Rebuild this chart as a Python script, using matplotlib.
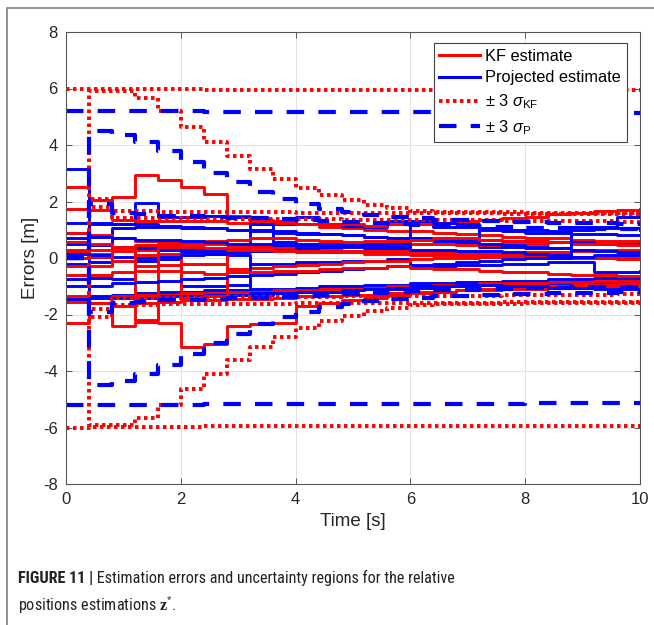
import numpy as np
import matplotlib
matplotlib.use('Agg')
import matplotlib.pyplot as plt
from matplotlib.lines import Line2D
from matplotlib.patches import Rectangle

plt.rcParams['font.family'] = ['Liberation Sans', 'DejaVu Sans']
plt.rcParams['axes.unicode_minus'] = False
plt.rcParams['mathtext.fontset'] = 'custom'
plt.rcParams['mathtext.rm'] = 'Liberation Sans'
plt.rcParams['mathtext.it'] = 'Liberation Sans:italic'
plt.rcParams['mathtext.bf'] = 'Liberation Serif:bold'

# time grid of the estimator updates (s)
t = np.arange(0, 10.01, 0.4)

# KF estimate errors (m), one per relative position component
kf_errors = [
    [2.5, 2.05, 2.15, 2.95, 2.75, 2.5, 2.25, 1.5, 1.35, 1.3, 1.2, 1.1, 1.05, 1.0, 0.95, 0.95, 0.9, 0.85, 0.8, 0.75, 0.7, 0.7, 0.65, 0.6, 0.6, 0.6],
    [-2.3, -1.6, -2.4, -2.25, -2.3, -3.15, -3.05, -2.4, -2.35, -2.3, -1.7, -1.6, -1.5, -1.4, -1.3, -1.25, -1.2, -1.15, -1.1, -1.05, -1.0, -1.0, -0.95, -0.95, -0.9, -0.9],
    [1.75, 1.7, 1.35, 1.3, 1.3, 1.3, 1.3, 1.25, 1.25, 1.25, 1.2, 1.2, 1.2, 1.15, 1.2, 1.2, 1.25, 1.3, 1.35, 1.4, 1.45, 1.55, 1.6, 1.65, 1.7, 1.72],
    [0.9, 0.8, 0.7, 0.6, 0.55, 0.5, 0.5, 0.45, 0.45, 0.4, 0.45, 0.45, 0.5, 0.5, 0.55, 0.5, 0.5, 0.45, 0.45, 0.5, 0.5, 0.55, 0.55, 0.5, 0.5, 0.5],
    [0.3, 0.3, 0.25, 0.3, 0.35, 0.35, 0.3, 0.3, 0.25, 0.25, 0.2, 0.2, 0.25, 0.3, 0.3, 0.25, 0.2, 0.2, 0.15, 0.15, 0.2, 0.2, 0.25, 0.3, 0.3, 0.3],
    [0.0, 0.05, -0.1, -0.3, -0.25, -0.2, -0.2, -0.4, -0.35, -0.3, -0.25, -0.2, -0.15, -0.1, -0.1, -0.05, 0.0, 0.0, 0.05, 0.05, 0.1, 0.1, 0.05, 0.0, 0.0, 0.0],
    [-1.35, -1.4, -1.35, -1.3, -1.3, -1.25, -1.25, -1.2, -1.2, -1.15, -1.15, -1.1, -1.1, -1.05, -1.0, -1.0, -0.95, -0.95, -0.9, -0.9, -0.9, -0.85, -0.85, -0.8, -0.8, -0.8],
    [-1.55, -1.6, -1.7, -1.6, -1.55, -1.5, -1.5, -1.45, -1.45, -1.4, -1.35, -1.35, -1.3, -1.3, -1.25, -1.2, -1.2, -1.15, -1.15, -1.1, -1.1, -1.05, -1.05, -1.0, -1.0, -1.0],
    [0.2, 0.15, -0.1, 0.1, 0.15, -1.4, -1.35, 0.35, 0.4, 0.35, 0.3, 0.3, 0.25, 0.2, 0.2, 0.15, 0.15, 0.1, 0.1, 0.1, 0.05, 0.05, 0.0, 0.0, -0.05, -0.05],
    [-0.3, -0.3, 0.35, -2.2, 0.45, 0.4, 0.35, 0.3, 0.3, 0.25, 0.25, 0.2, 0.2, 0.15, 0.15, 0.1, 0.1, 0.1, 0.05, 0.05, 0.05, 0.0, 0.0, 0.0, -0.05, -0.05],
    [0.55, 0.5, 0.4, 0.45, 0.5, 0.55, 0.6, 0.65, 0.7, 0.7, 0.65, 0.6, 0.55, 0.6, 0.6, 0.65, 0.7, 0.7, 0.65, 0.6, 0.6, 0.55, 0.5, 0.5, 0.45, 0.45],
    [-0.6, -0.6, -0.5, -0.45, -0.45, -0.5, -0.55, -0.5, -0.5, -0.45, -0.45, -0.4, -0.35, -0.35, -0.3, -0.35, -0.4, -0.4, -0.45, -0.5, -0.5, -0.55, -0.6, -0.6, -0.65, -0.65],
]

# projected estimate errors (m)
proj_errors = [
    [3.15, -1.35, -1.3, -1.25, -1.2, -1.2, -1.15, -1.15, -1.1, -1.1, -1.05, -1.0, -1.0, -0.95, -0.95, -0.9, -0.9, -0.85, -0.85, -0.8, -0.8, -0.75, -0.75, -0.7, -0.7, -0.7],
    [0.9, 1.2, 1.2, 1.95, 1.45, 1.45, 1.5, 1.45, 1.2, 1.2, 1.45, 1.2, 1.15, 1.1, 1.3, 1.3, 1.1, 1.1, 1.05, 1.0, 1.0, 0.95, 1.1, 1.1, 1.05, 1.0],
    [0.0, 0.05, 1.05, 1.1, 1.1, 1.05, 1.05, 1.0, 0.95, 0.9, 0.85, 0.85, 0.8, 0.75, 0.7, 0.7, 0.65, 0.6, 0.4, 0.4, 0.35, 0.35, 0.3, 0.3, 0.25, 0.25],
    [-0.75, -0.7, -0.75, 0.4, 0.4, -1.0, -1.0, -0.95, -0.2, -0.2, -0.15, -0.15, -0.1, -0.1, -0.05, -0.3, -0.3, -0.25, -0.25, -0.2, -0.2, -0.15, -0.15, -0.5, -0.5, -0.45],
    [0.5, 0.45, 0.4, 0.35, 0.3, 0.3, 0.25, 0.25, 1.2, 0.55, 0.5, 0.5, 0.45, 0.45, 0.4, 0.7, 0.7, 0.65, 1.0, 0.95, 0.9, 0.9, 0.85, 0.85, 0.8, 0.8],
    [-0.2, -0.15, -0.1, -0.1, -0.05, 0.2, 0.15, 0.1, -1.3, -1.25, -1.2, -1.2, -1.15, -1.1, -1.1, -1.05, -1.0, -1.0, -0.95, -0.95, -0.9, -0.9, -0.85, -0.85, -0.8, -0.8],
    [1.25, 1.25, 1.2, 1.2, 1.15, 1.1, 1.05, 1.0, 1.0, 0.95, 0.9, 0.85, 0.8, 0.75, 0.7, 0.65, 0.6, 0.55, 0.5, 0.45, 0.4, 0.35, 0.3, 0.25, 0.2, 0.2],
    [-1.45, -1.4, -1.4, -1.4, -1.35, -1.35, -1.3, -1.3, -1.25, -1.25, -1.2, -1.2, -1.15, -1.1, -1.05, -1.0, -1.0, -0.95, -0.95, -1.0, -1.0, -1.05, -1.05, -1.1, -1.1, -1.1],
    [0.15, 0.1, 0.05, 0.0, 0.05, 0.1, 0.15, 0.2, 0.25, 0.3, 0.35, 0.4, 0.45, 0.5, 0.5, 1.3, 1.25, 1.2, 0.65, 0.6, 0.6, 0.55, 0.55, 0.5, 0.5, 0.5],
    [-1.0, -1.0, -0.9, -0.85, -0.8, -0.75, -0.7, -0.65, -0.6, -0.55, -0.5, -0.45, -0.4, -0.35, -0.3, -0.25, -0.2, -0.15, -0.1, -0.05, 0.0, 0.0, 0.05, 0.1, 0.1, 0.1],
    [0.7, 0.75, 0.7, 0.65, 0.65, 0.6, 0.55, 0.5, 0.5, 0.45, 0.45, 0.4, 0.4, 0.35, 0.35, 0.3, 0.3, 0.25, 0.25, 0.2, 0.15, 0.1, 1.0, 1.05, 1.45, 1.5],
]

# 3-sigma bounds of the KF (m)
kf_sigma = [
    [6.0, 5.98, 5.98, 5.97, 5.97, 5.97, 5.96, 5.96, 5.96, 5.96, 5.95, 5.95, 5.95, 5.95, 5.95, 5.94, 5.94, 5.94, 5.94, 5.94, 5.93, 5.93, 5.93, 5.93, 5.93, 5.93],
    [0, 5.9, 5.9, 5.65, 5.2, 4.65, 4.1, 3.6, 3.15, 2.78, 2.47, 2.23, 2.05, 1.88, 1.76, 1.66, 1.64, 1.63, 1.62, 1.62, 1.61, 1.6, 1.6, 1.59, 1.58, 1.58],
    [0, 2.1, 1.65, 1.65, 1.64, 1.64, 1.63, 1.63, 1.62, 1.62, 1.61, 1.61, 1.6, 1.6, 1.6, 1.59, 1.59, 1.58, 1.58, 1.57, 1.57, 1.56, 1.56, 1.55, 1.55, 1.55],
    [0, 1.8, 1.42, 1.41, 1.4, 1.4, 1.39, 1.39, 1.38, 1.38, 1.37, 1.37, 1.36, 1.36, 1.35, 1.35, 1.34, 1.33, 1.33, 1.32, 1.31, 1.31, 1.3, 1.3, 1.29, 1.28],
]

# 3-sigma bounds of the projected estimate (m)
proj_sigma = [
    [5.2, 5.2, 5.2, 5.19, 5.19, 5.19, 5.18, 5.18, 5.18, 5.18, 5.17, 5.17, 5.17, 5.17, 5.17, 5.16, 5.16, 5.16, 5.16, 5.16, 5.15, 5.15, 5.15, 5.15, 5.15, 5.15],
    [0, 4.5, 4.35, 4.1, 3.78, 3.4, 3.0, 2.68, 2.35, 2.08, 1.9, 1.75, 1.62, 1.52, 1.45, 1.4, 1.36, 1.33, 1.3, 1.28, 1.26, 1.25, 1.24, 1.23, 1.22, 1.22],
    [0, 1.9, 1.6, 1.55, 1.5, 1.48, 1.45, 1.42, 1.4, 1.38, 1.35, 1.3, 1.27, 1.24, 1.2, 1.17, 1.15, 1.12, 1.1, 1.08, 1.06, 1.05, 1.04, 1.03, 1.02, 1.0],
]

fig = plt.figure(figsize=(6.54, 6.25), dpi=100)
ax = fig.add_axes([66 / 654, 1 - 484 / 625, 574 / 654, 452 / 625])

red = (1, 0, 0)
blue = (0, 0, 1)
dot = (0, (0.9, 0.9))
dash = (0, (4.2, 3.4))

n = max(len(kf_errors), len(proj_errors))
for i in range(n):
    if i < len(kf_errors):
        ax.plot(t, kf_errors[i], color=red, lw=2.1, drawstyle='steps-post')
    if i < len(proj_errors):
        ax.plot(t, proj_errors[i], color=blue, lw=2.1, drawstyle='steps-post')

for s in kf_sigma:
    s = np.array(s)
    ax.plot(t, s, color=red, lw=2.8, ls=dot, drawstyle='steps-post')
    ax.plot(t, -s, color=red, lw=2.8, ls=dot, drawstyle='steps-post')
for s in proj_sigma:
    s = np.array(s)
    ax.plot(t, s, color=blue, lw=3.0, ls=dash, drawstyle='steps-post')
    ax.plot(t, -s, color=blue, lw=3.0, ls=dash, drawstyle='steps-post')

ax.set_xlim(0, 10)
ax.set_ylim(-8, 8)
ax.set_xticks([0, 2, 4, 6, 8, 10])
ax.set_yticks([-8, -6, -4, -2, 0, 2, 4, 6, 8])
ax.grid(True, color='#e3e3e3', lw=0.7)
ax.set_axisbelow(True)
for sp in ax.spines.values():
    sp.set_color('#555555')
    sp.set_linewidth(0.8)
ax.tick_params(direction='in', top=True, right=True, length=4, width=0.7,
               color='#555555', labelsize=12, labelcolor='#262626', pad=6)
ax.set_xlabel('Time [s]', fontsize=13.5, color='#262626', labelpad=4)
ax.set_ylabel('Errors [m]', fontsize=13.5, color='#262626', labelpad=3)

handles = [
    Line2D([], [], color=red, lw=2.2),
    Line2D([], [], color=blue, lw=2.2),
    Line2D([], [], color=red, lw=2.8, ls=dot),
    Line2D([], [], color=blue, lw=3.0, ls=dash),
]
labels = ['KF estimate', 'Projected estimate',
          '± 3 $\\sigma_{\\mathrm{KF}}$', '± 3 $\\sigma_{\\mathrm{P}}$']
leg = ax.legend(handles, labels, loc='upper right', bbox_to_anchor=(0.977, 0.976),
                borderaxespad=0, fontsize=11.8, handlelength=2.5, handletextpad=0.3,
                labelspacing=0.42, borderpad=0.35, fancybox=False, framealpha=1,
                edgecolor='#444444')
leg.get_frame().set_linewidth(0.8)

# outer frame of the figure panel
fig.add_artist(Rectangle((7 / 654, -0.1), 1.2, 1.1 - 8 / 625, transform=fig.transFigure,
                         fill=False, edgecolor='#808080', lw=1.2))

cap_font = ['Roboto Condensed', 'Liberation Sans']
t1 = fig.text(18 / 654, 1 - 583 / 625, 'FIGURE 11 |', fontsize=11.6, fontweight='bold',
              family=cap_font, color='#222222', va='baseline')
ax.annotate(' Estimation errors and uncertainty regions for the relative',
            xy=(1, 0), xycoords=t1, va='bottom', ha='left', fontsize=11.6,
            family=cap_font, color='#222222', annotation_clip=False)
fig.text(18 / 654, 1 - 611 / 625, 'positions estimations $\\mathbf{z}^{*}$.', fontsize=11.6,
         family=cap_font, color='#222222', va='baseline')

fig.savefig('out.png', dpi=100)
